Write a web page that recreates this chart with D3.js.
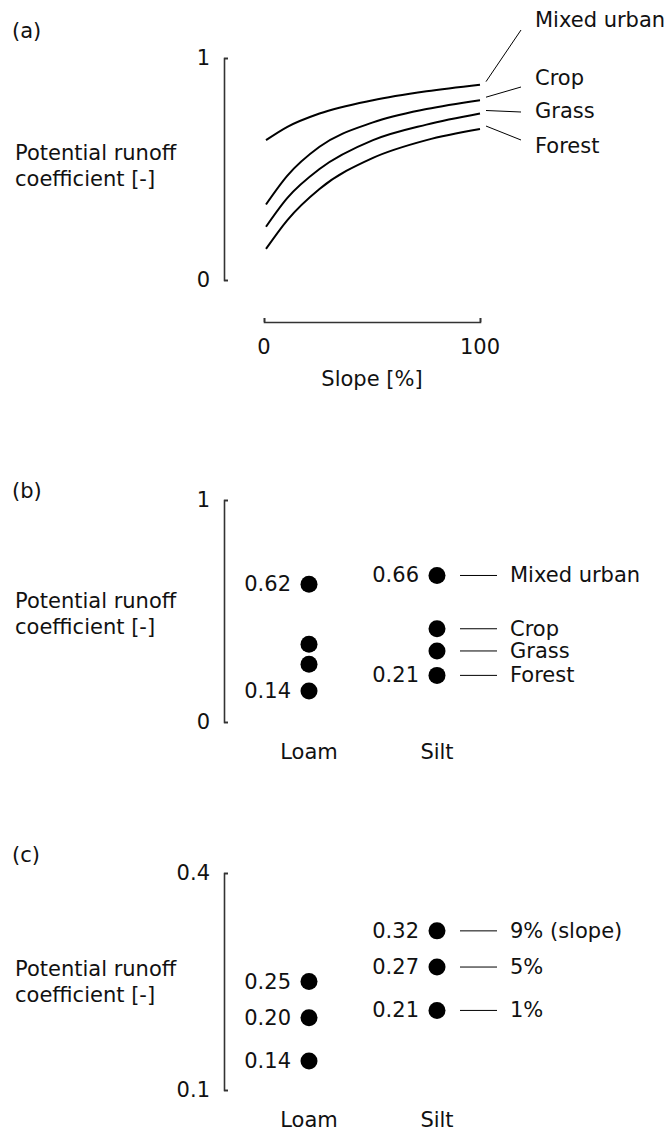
<!DOCTYPE html>
<html><head><meta charset="utf-8">
<script src="https://cdn.jsdelivr.net/npm/d3@7"></script>
<style>body{margin:0;background:#fff}text{font-family:"DejaVu Sans",Verdana,sans-serif;font-size:21px;fill:#111}</style>
</head><body><svg id="c" width="668" height="1140"></svg>
<script>
// panel (a) curves
var slopes = [0, 10, 25, 50, 75, 100];
var landuse = ["Mixed urban", "Crop", "Grass", "Forest"];
var curveValues = [
  [0.63, 0.69, 0.75, 0.81, 0.85, 0.88],
  [0.34, 0.47, 0.60, 0.71, 0.77, 0.81],
  [0.24, 0.37, 0.50, 0.63, 0.70, 0.75],
  [0.14, 0.27, 0.41, 0.55, 0.63, 0.68]
];
// panel (b)
var soils = ["Loam", "Silt"];
var loamB = [0.62, 0.35, 0.26, 0.14];
var siltB = [0.66, 0.42, 0.32, 0.21];
var loamBLabels = ["0.62", "", "", "0.14"];
var siltBLabels = ["0.66", "", "", "0.21"];
// panel (c)
var slopeClasses = ["9% (slope)", "5%", "1%"];
var loamC = [0.25, 0.20, 0.14];
var siltC = [0.32, 0.27, 0.21];

var svg = d3.select("#c");
var axCol = "#333";

function yAxis(g, y, ticks, fmt) {
  g.append("g").attr("transform", "translate(224,0)")
    .call(d3.axisRight(y).tickValues(ticks).tickSize(4).tickFormat(""))
    .call(function(a) { a.selectAll("path,line").attr("stroke", axCol).attr("stroke-width", 1.6); });
  ticks.forEach(function(t) {
    g.append("text").attr("x", 210).attr("y", y(t) + 7).attr("text-anchor", "end").text(fmt(t));
  });
}
function ylabel(g, ycenter) {
  g.append("text").attr("x", 15).attr("y", ycenter - 4).text("Potential runoff");
  g.append("text").attr("x", 15).attr("y", ycenter + 22).text("coefficient [-]");
}

// ---- (a)
var ga = svg.append("g");
ga.append("text").attr("x", 12).attr("y", 38).text("(a)");
var ya = d3.scaleLinear().domain([0, 1]).range([280, 58]);
var xa = d3.scaleLinear().domain([0, 100]).range([266, 480]);
yAxis(ga, ya, [0, 1], d3.format("d"));
ylabel(ga, 164);
ga.append("g").attr("transform", "translate(0,322)")
  .call(d3.axisTop(d3.scaleLinear().domain([0, 100]).range([264, 480])).tickValues([0, 100]).tickSize(4).tickFormat(""))
  .call(function(a) { a.selectAll("path,line").attr("stroke", axCol).attr("stroke-width", 1.6); });
ga.append("text").attr("x", 264).attr("y", 354).attr("text-anchor", "middle").text("0");
ga.append("text").attr("x", 480).attr("y", 354).attr("text-anchor", "middle").text("100");
ga.append("text").attr("x", 372).attr("y", 386).attr("text-anchor", "middle").text("Slope [%]");
var line = d3.line().x(function(d, i) { return xa(slopes[i]); }).y(function(d) { return ya(d); }).curve(d3.curveMonotoneX);
curveValues.forEach(function(s) {
  ga.append("path").attr("d", line(s)).attr("fill", "none").attr("stroke", "#000").attr("stroke-width", 2);
});
var aLab = [[30, 20], [87, 78], [112, 111], [140, 146]];
landuse.forEach(function(n, i) {
  var yEnd = ya(curveValues[i][5]);
  ga.append("line").attr("x1", 486).attr("y1", yEnd - 3).attr("x2", 521).attr("y2", aLab[i][0]).attr("stroke", "#000").attr("stroke-width", 1);
  ga.append("text").attr("x", 535).attr("y", aLab[i][1] + 7).text(n);
});

// ---- dot panels
function dotPanel(top, label, domain, ticks, fmt, loam, silt, loamLab, siltLab, rightLab, axisTop, axisBot, ylab) {
  var g = svg.append("g");
  g.append("text").attr("x", 12).attr("y", top).text(label);
  var y = d3.scaleLinear().domain(domain).range([axisBot, axisTop]);
  var x = d3.scalePoint().domain(soils).range([309, 437]);
  yAxis(g, y, ticks, fmt);
  ylabel(g, ylab);
  [loam, silt].forEach(function(vals, k) {
    var cx = x(soils[k]);
    g.selectAll(null).data(vals).enter().append("circle")
      .attr("cx", cx).attr("cy", function(d) { return y(d); }).attr("r", 8.5).attr("fill", "#000");
    var labs = k === 0 ? loamLab : siltLab;
    vals.forEach(function(d, i) {
      if (labs[i]) g.append("text").attr("x", cx - 18).attr("y", y(d) + 7).attr("text-anchor", "end").text(labs[i]);
    });
  });
  silt.forEach(function(d, i) {
    if (!rightLab[i]) return;
    g.append("line").attr("x1", 460).attr("x2", 497).attr("y1", y(d)).attr("y2", y(d)).attr("stroke", "#000").attr("stroke-width", 1);
    g.append("text").attr("x", 510).attr("y", y(d) + 7).text(rightLab[i]);
  });
  soils.forEach(function(s) {
    g.append("text").attr("x", x(s)).attr("y", axisBot + 37).attr("text-anchor", "middle").text(s);
  });
}
dotPanel(498, "(b)", [0, 1], [0, 1], d3.format("d"), loamB, siltB, loamBLabels, siltBLabels, landuse, 500, 722, 612);
dotPanel(862, "(c)", [0.1, 0.4], [0.1, 0.4], d3.format(".1f"), loamC, siltC, ["0.25", "0.20", "0.14"], ["0.32", "0.27", "0.21"], slopeClasses, 873, 1090, 980);
</script></body></html>
